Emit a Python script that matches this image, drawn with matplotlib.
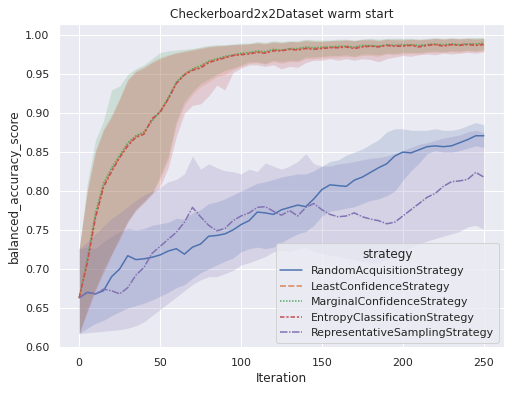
import numpy as np
import matplotlib
matplotlib.use("Agg")
import matplotlib.pyplot as plt
import seaborn as sns

ITER = np.arange(0, 251, 5)

strategies = ["RandomAcquisitionStrategy", "LeastConfidenceStrategy",
              "MarginalConfidenceStrategy", "EntropyClassificationStrategy",
              "RepresentativeSamplingStrategy"]

random_mean = [0.663, 0.670, 0.668, 0.672, 0.690, 0.700, 0.717, 0.712, 0.713, 0.715,
               0.718, 0.723, 0.726, 0.719, 0.728, 0.732, 0.742, 0.743, 0.745, 0.750,
               0.757, 0.762, 0.773, 0.772, 0.770, 0.776, 0.779, 0.782, 0.780, 0.790,
               0.802, 0.808, 0.807, 0.806, 0.814, 0.818, 0.824, 0.830, 0.835, 0.845,
               0.850, 0.849, 0.853, 0.857, 0.858, 0.857, 0.858, 0.862, 0.866, 0.871, 0.871]
random_lo = [0.617, 0.624, 0.630, 0.634, 0.640, 0.645, 0.650, 0.653, 0.656, 0.660,
             0.665, 0.670, 0.676, 0.680, 0.688, 0.695, 0.700, 0.705, 0.710, 0.714,
             0.722, 0.726, 0.728, 0.726, 0.728, 0.734, 0.740, 0.745, 0.748, 0.756,
             0.768, 0.774, 0.776, 0.778, 0.780, 0.784, 0.788, 0.790, 0.794, 0.800,
             0.814, 0.826, 0.836, 0.848, 0.852, 0.850, 0.850, 0.852, 0.855, 0.858, 0.856]
random_hi = [0.726, 0.728, 0.726, 0.735, 0.742, 0.748, 0.752, 0.750, 0.752, 0.756,
             0.758, 0.760, 0.765, 0.764, 0.772, 0.776, 0.784, 0.786, 0.790, 0.795,
             0.800, 0.805, 0.810, 0.812, 0.815, 0.818, 0.820, 0.822, 0.822, 0.826,
             0.832, 0.838, 0.840, 0.846, 0.850, 0.854, 0.860, 0.866, 0.876, 0.880,
             0.880, 0.878, 0.878, 0.878, 0.880, 0.878, 0.878, 0.880, 0.884, 0.888, 0.885]

least_mean = [0.663, 0.710, 0.768, 0.807, 0.827, 0.844, 0.860, 0.870, 0.875, 0.891,
              0.902, 0.919, 0.939, 0.950, 0.956, 0.960, 0.966, 0.969, 0.972, 0.974,
              0.976, 0.977, 0.979, 0.978, 0.981, 0.981, 0.982, 0.982, 0.984, 0.983,
              0.984, 0.985, 0.985, 0.986, 0.984, 0.986, 0.986, 0.986, 0.987, 0.987,
              0.987, 0.988, 0.986, 0.988, 0.988, 0.987, 0.988, 0.988, 0.989, 0.988, 0.989]
least_lo = [0.617, 0.647, 0.674, 0.698, 0.719, 0.740, 0.761, 0.776, 0.786, 0.797,
            0.815, 0.840, 0.885, 0.910, 0.924, 0.934, 0.940, 0.947, 0.950, 0.956,
            0.960, 0.964, 0.965, 0.963, 0.966, 0.964, 0.966, 0.966, 0.970, 0.970,
            0.971, 0.972, 0.972, 0.973, 0.972, 0.974, 0.974, 0.973, 0.976, 0.975,
            0.976, 0.977, 0.976, 0.978, 0.978, 0.978, 0.979, 0.978, 0.980, 0.979, 0.980]
least_hi = [0.726, 0.802, 0.852, 0.880, 0.898, 0.920, 0.944, 0.955, 0.960, 0.966,
            0.972, 0.975, 0.978, 0.980, 0.982, 0.984, 0.986, 0.987, 0.987, 0.988,
            0.989, 0.989, 0.991, 0.990, 0.992, 0.991, 0.992, 0.992, 0.994, 0.993,
            0.993, 0.993, 0.994, 0.994, 0.993, 0.995, 0.995, 0.994, 0.995, 0.995,
            0.995, 0.995, 0.995, 0.995, 0.996, 0.995, 0.996, 0.996, 0.996, 0.996, 0.996]

marginal_mean = [0.663, 0.714, 0.772, 0.810, 0.830, 0.846, 0.862, 0.871, 0.876, 0.890,
                 0.903, 0.920, 0.940, 0.950, 0.957, 0.961, 0.967, 0.970, 0.973, 0.975,
                 0.977, 0.978, 0.980, 0.979, 0.982, 0.981, 0.983, 0.983, 0.985, 0.984,
                 0.985, 0.985, 0.986, 0.986, 0.985, 0.987, 0.987, 0.986, 0.988, 0.987,
                 0.988, 0.988, 0.987, 0.988, 0.989, 0.988, 0.989, 0.988, 0.989, 0.989, 0.990]
marginal_lo = [0.617, 0.648, 0.675, 0.700, 0.720, 0.742, 0.762, 0.777, 0.787, 0.797,
               0.820, 0.845, 0.890, 0.915, 0.928, 0.938, 0.944, 0.950, 0.955, 0.958,
               0.962, 0.966, 0.966, 0.964, 0.968, 0.966, 0.968, 0.967, 0.972, 0.972,
               0.973, 0.974, 0.974, 0.975, 0.973, 0.976, 0.976, 0.975, 0.977, 0.977,
               0.978, 0.978, 0.978, 0.979, 0.980, 0.979, 0.980, 0.980, 0.981, 0.980, 0.982]
marginal_hi = [0.726, 0.810, 0.865, 0.890, 0.930, 0.935, 0.950, 0.957, 0.962, 0.970,
               0.978, 0.980, 0.981, 0.982, 0.983, 0.985, 0.987, 0.988, 0.988, 0.989,
               0.990, 0.990, 0.992, 0.991, 0.993, 0.992, 0.993, 0.993, 0.995, 0.994,
               0.994, 0.994, 0.995, 0.995, 0.994, 0.995, 0.996, 0.995, 0.996, 0.996,
               0.996, 0.996, 0.995, 0.996, 0.997, 0.996, 0.997, 0.996, 0.997, 0.997, 0.997]

entropy_mean = [0.663, 0.708, 0.765, 0.805, 0.825, 0.843, 0.858, 0.869, 0.873, 0.893,
                0.901, 0.918, 0.938, 0.949, 0.955, 0.958, 0.965, 0.968, 0.971, 0.974,
                0.975, 0.976, 0.978, 0.977, 0.980, 0.980, 0.982, 0.981, 0.983, 0.982,
                0.983, 0.984, 0.984, 0.985, 0.983, 0.985, 0.986, 0.985, 0.987, 0.986,
                0.986, 0.987, 0.985, 0.987, 0.988, 0.986, 0.988, 0.987, 0.988, 0.987, 0.988]
entropy_lo = [0.617, 0.645, 0.672, 0.695, 0.718, 0.738, 0.760, 0.775, 0.785, 0.796,
              0.806, 0.830, 0.870, 0.900, 0.910, 0.912, 0.922, 0.936, 0.930, 0.952,
              0.958, 0.962, 0.962, 0.960, 0.962, 0.957, 0.960, 0.959, 0.965, 0.968,
              0.968, 0.970, 0.968, 0.970, 0.968, 0.970, 0.969, 0.966, 0.970, 0.972,
              0.974, 0.973, 0.975, 0.976, 0.975, 0.977, 0.976, 0.977, 0.978, 0.977, 0.979]
entropy_hi = [0.726, 0.800, 0.850, 0.878, 0.895, 0.918, 0.942, 0.953, 0.958, 0.965,
              0.970, 0.974, 0.977, 0.979, 0.981, 0.983, 0.985, 0.986, 0.987, 0.988,
              0.988, 0.989, 0.990, 0.989, 0.991, 0.990, 0.992, 0.991, 0.993, 0.992,
              0.992, 0.993, 0.993, 0.994, 0.993, 0.994, 0.994, 0.993, 0.995, 0.994,
              0.994, 0.995, 0.994, 0.995, 0.996, 0.995, 0.996, 0.995, 0.996, 0.995, 0.996]

repr_mean = [0.663, 0.670, 0.668, 0.674, 0.672, 0.668, 0.676, 0.692, 0.702, 0.720,
             0.729, 0.738, 0.747, 0.760, 0.779, 0.767, 0.756, 0.749, 0.752, 0.762,
             0.768, 0.772, 0.779, 0.780, 0.774, 0.769, 0.775, 0.768, 0.779, 0.784,
             0.776, 0.770, 0.767, 0.768, 0.772, 0.767, 0.764, 0.762, 0.758, 0.760,
             0.768, 0.776, 0.784, 0.792, 0.797, 0.806, 0.812, 0.813, 0.815, 0.824, 0.818]
repr_lo = [0.617, 0.618, 0.619, 0.620, 0.621, 0.622, 0.624, 0.627, 0.632, 0.640,
           0.648, 0.656, 0.664, 0.672, 0.680, 0.686, 0.690, 0.690, 0.694, 0.698,
           0.705, 0.708, 0.712, 0.716, 0.722, 0.724, 0.722, 0.726, 0.728, 0.722,
           0.720, 0.718, 0.716, 0.714, 0.712, 0.710, 0.708, 0.708, 0.712, 0.716,
           0.722, 0.728, 0.732, 0.736, 0.739, 0.742, 0.745, 0.748, 0.754, 0.756, 0.751]
repr_hi = [0.726, 0.735, 0.745, 0.755, 0.765, 0.772, 0.780, 0.788, 0.795, 0.800,
           0.805, 0.812, 0.815, 0.822, 0.845, 0.828, 0.835, 0.830, 0.826, 0.825,
           0.822, 0.828, 0.825, 0.836, 0.832, 0.828, 0.832, 0.838, 0.848, 0.835,
           0.832, 0.832, 0.835, 0.836, 0.838, 0.840, 0.842, 0.843, 0.845, 0.848,
           0.852, 0.856, 0.860, 0.862, 0.865, 0.868, 0.870, 0.872, 0.876, 0.878, 0.875]

means = [random_mean, least_mean, marginal_mean, entropy_mean, repr_mean]
lows = [random_lo, least_lo, marginal_lo, entropy_lo, repr_lo]
highs = [random_hi, least_hi, marginal_hi, entropy_hi, repr_hi]

sns.set_theme(style="darkgrid")
colors = sns.color_palette("deep")
colors = [colors[0], colors[1], colors[2], colors[3], colors[4]]
dashes = [(None, None), (4, 1.5), (1, 1), (3, 1.25, 1.5, 1.25), (5, 1, 1, 1)]

fig = plt.figure(figsize=(511 / 72, 393 / 72), dpi=72)
ax = fig.add_axes([59 / 511, 1 - 348 / 393, 445 / 511, 324 / 393])

for name, m, lo, hi, c, d in zip(strategies, means, lows, highs, colors, dashes):
    ax.fill_between(ITER, lo, hi, color=c, alpha=0.2, linewidth=0)
    if d[0] is None:
        ax.plot(ITER, m, color=c, lw=1.5, label=name)
    else:
        ax.plot(ITER, m, color=c, lw=1.5, dashes=d, label=name)

ax.set_xlim(-12.5, 262.5)
ax.set_ylim(0.5985, 1.0145)
ax.set_xticks([0, 50, 100, 150, 200, 250])
ax.set_yticks(np.arange(0.60, 1.001, 0.05))
ax.tick_params(labelsize=11)
ax.set_xlabel("Iteration", fontsize=12)
ax.set_ylabel("balanced_accuracy_score", fontsize=12)
ax.set_title("Checkerboard2x2Dataset warm start", fontsize=12)
ax.legend(title="strategy", loc="lower right", fontsize=11, title_fontsize=12)

fig.savefig("out.png", dpi=72)
